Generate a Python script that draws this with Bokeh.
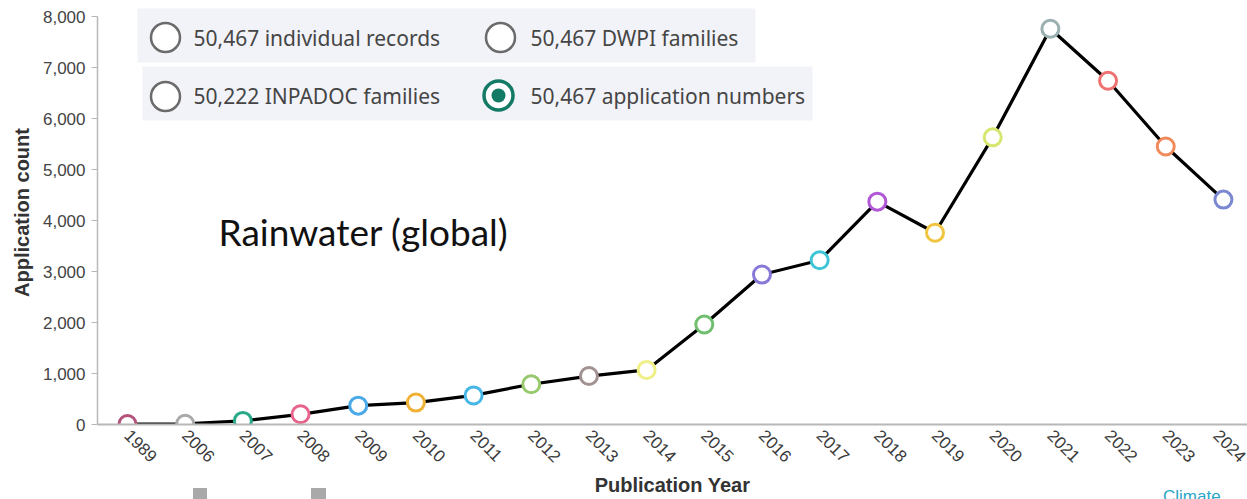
import math
from bokeh.plotting import figure
from bokeh.layouts import column
from bokeh.models import Range1d, FixedTicker, NumeralTickFormatter, Label, Div
from bokeh.core.properties import value
from bokeh.embed import file_html
from bokeh.resources import INLINE

# ---- data ----
years = ["1989", "2006", "2007", "2008", "2009", "2010", "2011", "2012", "2013", "2014",
         "2015", "2016", "2017", "2018", "2019", "2020", "2021", "2022", "2023", "2024"]
counts = [10, 15, 70, 200, 370, 430, 570, 790, 950, 1070,
          1960, 2940, 3220, 4370, 3760, 5630, 7760, 6740, 5450, 4410]
point_colors = ["#b5527c", "#a9a9a9", "#2aa88a", "#e8638c", "#4aa9e6", "#f0b236", "#46b6e6",
                "#98c86e", "#a39090", "#f0ef86", "#6fbf6f", "#8a78d8", "#3fc6d6", "#b158d6",
                "#f0c640", "#d6e66e", "#9bb0b0", "#ef7272", "#f08a5a", "#7a88d2"]
y_ticks = [0, 1000, 2000, 3000, 4000, 5000, 6000, 7000, 8000]
legend_labels = ["50,467 individual records", "50,467 DWPI families",
                 "50,222 INPADOC families", "50,467 application numbers"]
title_text = "Rainwater (global)"
corner_text = "Climate"

# ---- layout helpers (page pixels -> data space, for decorations only) ----
W, H = 1247, 499
BL, BB = 97, 75
X0, DX = 127.0, 57.68      # page x of first category, px per category
Y0 = H - BB                # page y of zero
DY = 0.051                 # px per unit
def dx(px):
    return (px - X0) / DX
def dy(py):
    return (Y0 - py) / DY

x_start = -(X0 - BL) / DX
x_end = x_start + (W - BL) / DX
y_end = (H - BB) / DY

p = figure(width=W, height=H, output_backend="svg", toolbar_location=None,
           x_range=Range1d(x_start, x_end), y_range=Range1d(0, y_end),
           min_border_left=BL, min_border_right=0, min_border_top=0, min_border_bottom=BB)
p.background_fill_color = "white"
p.border_fill_color = "white"
p.outline_line_color = None
p.grid.visible = False

# ---- radio-style legend at top ----
p.quad(left=[dx(137), dx(142)], right=[dx(755), dx(812)],
       top=[dy(8), dy(66)], bottom=[dy(62), dy(120)],
       fill_color="#f2f3f8", line_color=None)
p.scatter(x=[dx(165), dx(500), dx(165)], y=[dy(37), dy(37), dy(96)], size=29,
          fill_color="white", line_color="#6b6b6b", line_width=2.5)
p.scatter(x=[dx(498)], y=[dy(95)], size=29, fill_color="white",
          line_color="#137a66", line_width=3.5)
p.scatter(x=[dx(498)], y=[dy(95)], size=14, fill_color="#137a66", line_color=None)
p.text(x=[dx(193), dx(530), dx(193), dx(530)], y=[dy(37), dy(37), dy(95), dy(95)],
       text=legend_labels, text_baseline="middle", text_align="left",
       text_font=value("Noto Sans"), text_font_size="21px", text_color="#454545")

# ---- title-like text ----
p.add_layout(Label(x=dx(218), y=dy(231), text=title_text, text_baseline="middle",
                   text_align="left", text_font="Lato", text_font_size="37px",
                   text_color="#111111"))

# ---- data ----
xs = list(range(len(years)))
p.line(xs, counts, line_color="black", line_width=3.2)
p.scatter(xs, counts, size=17, fill_color="white", line_color=point_colors, line_width=3)

# ---- axes ----
p.xaxis.ticker = FixedTicker(ticks=xs)
p.xaxis.major_label_overrides = {i: y for i, y in enumerate(years)}
p.xaxis.major_label_orientation = -math.pi / 4
p.xaxis.axis_line_color = "#b8b8b8"
p.xaxis.axis_line_width = 2
p.xaxis.major_tick_line_color = None
p.xaxis.minor_tick_line_color = None
p.xaxis.major_label_standoff = 2
p.xaxis.major_label_text_font = "Liberation Sans"
p.xaxis.major_label_text_font_size = "17px"
p.xaxis.major_label_text_color = "#3a3a3a"
p.xaxis.axis_label = "Publication Year"
p.xaxis.axis_label_text_font = "Liberation Sans"
p.xaxis.axis_label_text_font_style = "bold"
p.xaxis.axis_label_text_font_size = "20px"
p.xaxis.axis_label_text_color = "#333333"
p.xaxis.axis_label_standoff = 3

p.yaxis.ticker = FixedTicker(ticks=y_ticks)
p.yaxis.formatter = NumeralTickFormatter(format="0,0")
p.yaxis.bounds = (0, 8000)
p.yaxis.axis_line_color = "#b8b8b8"
p.yaxis.axis_line_width = 1.5
p.yaxis.major_tick_line_color = "#b8b8b8"
p.yaxis.major_tick_out = 6
p.yaxis.major_tick_in = 0
p.yaxis.minor_tick_line_color = None
p.yaxis.major_label_standoff = 6
p.yaxis.major_label_text_font = "Liberation Sans"
p.yaxis.major_label_text_font_size = "17px"
p.yaxis.major_label_text_color = "#444444"
p.yaxis.axis_label = "Application count"
p.yaxis.axis_label_text_font = "Liberation Sans"
p.yaxis.axis_label_text_font_style = "bold"
p.yaxis.axis_label_text_font_size = "20px"
p.yaxis.axis_label_text_color = "#333333"
p.yaxis.axis_label_standoff = 7

# ---- caption peeking in at the bottom-right corner, and two small grey tabs ----
corner = Div(text=corner_text, width=84, height=12, margin=(-12, 0, 0, 1163),
             styles={"color": "#2aa6c8", "font-family": "Liberation Sans",
                     "font-size": "17px", "line-height": "20px", "overflow": "hidden",
                     "white-space": "nowrap"})
tab1 = Div(text="", width=14, height=11, margin=(-11, 0, 0, 193),
           styles={"background-color": "#a9a9a9"})
tab2 = Div(text="", width=15, height=11, margin=(-11, 0, 0, 311),
           styles={"background-color": "#a9a9a9"})

layout = column(p, corner, tab1, tab2, spacing=0)
open("out.html", "w").write(file_html(layout, INLINE))
